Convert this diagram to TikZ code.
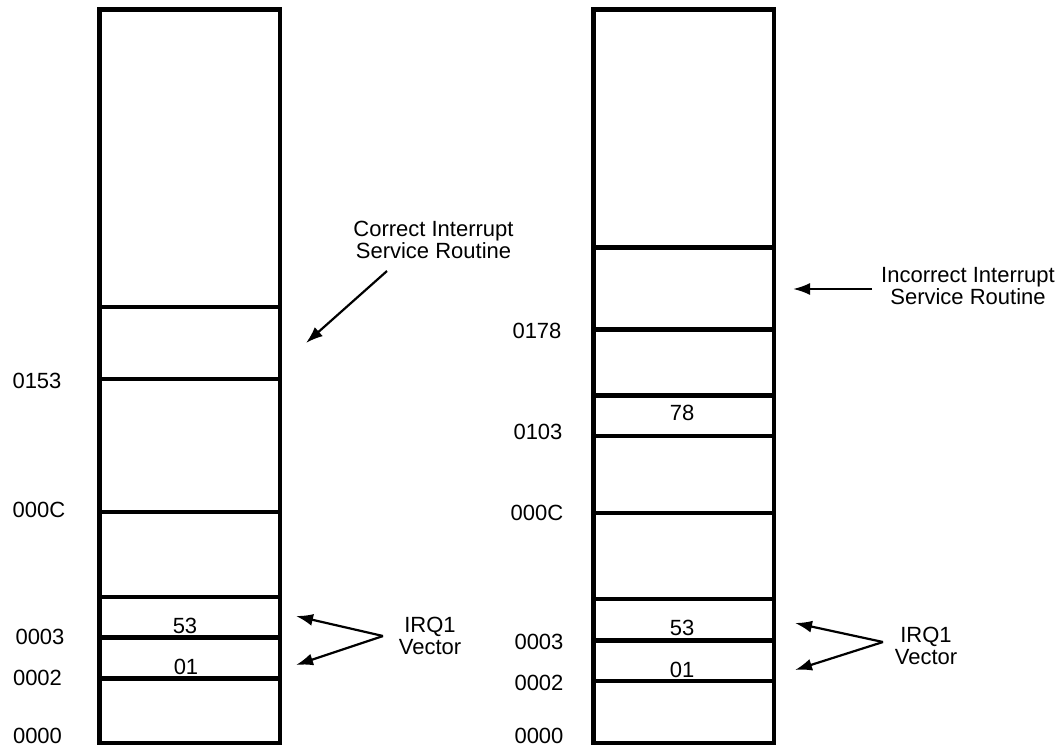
\documentclass[tikz,border=0pt]{standalone}
\usepackage{fontspec}
\setmainfont{Liberation Sans}
\usetikzlibrary{arrows.meta}
\begin{document}
\begin{tikzpicture}[x=1pt,y=-1pt,
  col/.style={line width=4.5pt},
  txt/.style={inner sep=0pt,font=\fontsize{22}{22}\selectfont,align=center},
  arr/.style={line width=2.2pt,-{Latex[length=17pt,width=12pt]}}]
\useasboundingbox (0,0) rectangle (1061,748);
% left column
\draw[col] (99.5,9.5) rectangle (280,743);
\foreach \y in {307,379,512,597,637.5,678.5}
  \draw[col] (99.5,\y) -- (280,\y);
% right column
\draw[col] (593.5,9.5) rectangle (774,743);
\foreach \y in {247.5,329.5,395.5,436,513,599,640.5,681}
  \draw[col] (593.5,\y) -- (774,\y);
% left address labels
\node[txt] (l0153) at (37,381) {0153};
\node[txt] (l000C) at (39,510) {000C};
\node[txt] (l0003) at (40,637) {0003};
\node[txt] (l0002) at (37.5,678) {0002};
\node[txt] (l0000) at (37.5,735.5) {0000};
% right address labels
\node[txt] (r0178) at (537,331) {0178};
\node[txt] (r0103) at (538,432) {0103};
\node[txt] (r000C) at (537,513) {000C};
\node[txt] (r0003) at (539,642) {0003};
\node[txt] (r0002) at (539,683) {0002};
\node[txt] (r0000) at (539,735.5) {0000};
% cell contents
\node[txt] (l53) at (185,626) {53};
\node[txt] (l01) at (186,667) {01};
\node[txt] (r78) at (682,412.5) {78};
\node[txt] (r53) at (682,628) {53};
\node[txt] (r01) at (682,669.5) {01};
% annotations
\node[txt] (correct) at (433.5,240) {Correct Interrupt\\Service Routine};
\node[txt] (incorrect) at (968,286) {Incorrect Interrupt\\Service Routine};
\node[txt] (lirq) at (430,636) {IRQ1\\Vector};
\node[txt] (rirq) at (926,646) {IRQ1\\Vector};
% arrow points
\coordinate (cs) at (387,271);
\coordinate (ct) at (306,343);
\coordinate (is) at (872,289);
\coordinate (it) at (793,289);
\coordinate (lv) at (383,636);
\coordinate (lt1) at (296,616);
\coordinate (lt2) at (296,665);
\coordinate (rv) at (883,642);
\coordinate (rt1) at (795,623);
\coordinate (rt2) at (795,670);
\draw[arr] (cs) -- (ct);
\draw[arr] (is) -- (it);
\draw[arr] (lv) -- (lt1);
\draw[arr] (lv) -- (lt2);
\draw[arr] (rv) -- (rt1);
\draw[arr] (rv) -- (rt2);
\end{tikzpicture}
\end{document}
